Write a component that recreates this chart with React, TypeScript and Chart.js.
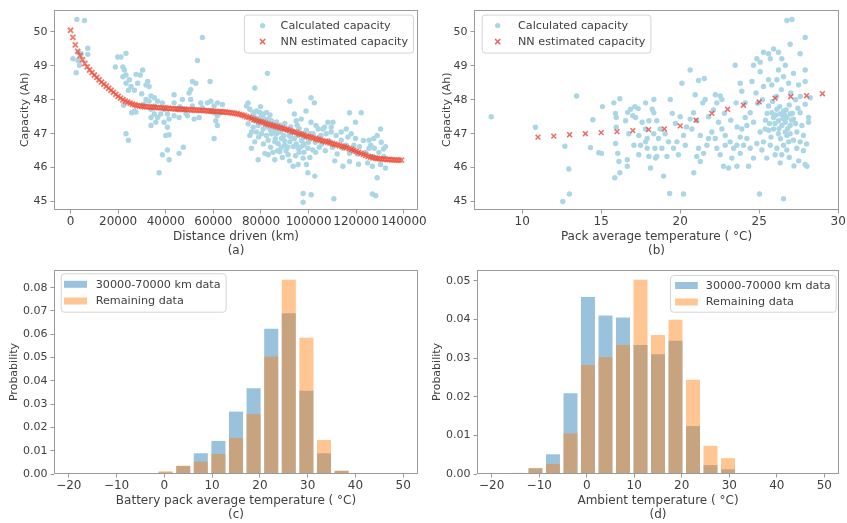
import React, { useEffect, useRef } from 'react';
import { Chart, registerables } from 'chart.js';
Chart.register(...registerables);

// ---------- data ----------
const distTicks = [0, 20000, 40000, 60000, 80000, 100000, 120000, 140000];
const capTicks = [45, 46, 47, 48, 49, 50];
const tempTicksB = [10, 15, 20, 25, 30];
const tempTicksHist = [-20, -10, 0, 10, 20, 30, 40, 50];
const probTicksC = [0, 0.01, 0.02, 0.03, 0.04, 0.05, 0.06, 0.07, 0.08];
const probTicksD = [0, 0.01, 0.02, 0.03, 0.04, 0.05];

// (a) calculated capacity vs distance: [km, Ah]
const calcPointsA = [
  [2650,50.37],[5860,50.34],[980,49.21],[3070,49.16],[3770,49.02],[2370,48.80],[7250,49.52],[7250,49.34],[4460,49.36],[3350,49.40],
  [55380,49.84],[19800,49.26],[21200,49.26],[23300,49.37],[18830,48.97],[22000,48.97],[22600,48.88],[23300,48.73],[22000,48.68],[24700,48.59],
  [23300,48.49],[25400,48.39],[24300,48.28],[30300,48.88],[29300,48.73],[27500,48.75],[32400,48.54],[31700,48.44],[33000,48.39],[28200,48.49],
  [26800,48.28],[29900,48.18],[33800,48.11],[35200,48.06],[33000,47.96],[36600,47.96],[38600,47.91],[22300,47.84],[25700,47.62],[27500,47.64],
  [33800,47.72],[35200,47.58],[33800,47.48],[36600,47.48],[37900,47.58],[39300,47.72],[40700,47.58],[41400,47.43],[33800,47.24],[35800,47.34],
  [39300,47.34],[40700,47.19],[43500,48.15],[47000,48.01],[43500,47.91],[44900,47.72],[43500,47.53],[45600,47.48],[47700,47.72],[49800,48.20],
  [50500,48.01],[51200,48.54],[52600,48.49],[53300,49.16],[58600,48.54],[50500,48.30],[51200,47.82],[49100,47.53],[51900,47.43],[54700,47.91],
  [55400,47.77],[57500,47.91],[58900,47.96],[60300,47.82],[61700,47.91],[63800,47.86],[63100,47.62],[61700,47.53],[60300,47.62],[58900,47.67],
  [54000,47.48],[60300,46.86],[61700,47.24],[61000,47.38],[23300,47.00],[24300,46.81],[38600,46.38],[40700,46.52],[41400,46.23],[45600,46.42],
  [47400,46.60],[37200,45.85],[41400,46.97],[40000,46.95],[26800,47.67],[30700,47.87],[31700,48.01],[35200,47.82],[46000,47.80],[48500,47.60],
  [82700,48.78],[77400,48.35],[74600,47.91],[73900,47.82],[75300,47.72],[76700,47.63],[78100,47.67],[79500,47.63],[80900,47.58],[82300,47.63],
  [76000,47.48],[77400,47.38],[79500,47.38],[81600,47.34],[83000,47.43],[84400,47.38],[74600,47.29],[76700,47.19],[78800,47.24],[80900,47.14],
  [83000,47.19],[85100,47.24],[75300,46.95],[78100,47.05],[80200,47.00],[82300,46.95],[84400,47.00],[86500,47.00],[83000,46.81],[85800,46.76],
  [88600,46.86],[87200,46.71],[90000,46.66],[92100,46.76],[93500,46.62],[95600,46.57],[97700,46.66],[99700,46.57],[101800,46.52],[83000,46.38],
  [85800,46.23],[78800,46.23],[81600,46.42],[87900,46.47],[91400,46.38],[93500,46.04],[95600,46.09],[97700,46.28],[99100,46.09],[102600,45.75],
  [99700,45.85],[92100,47.96],[96900,47.43],[94800,47.38],[94000,47.58],[98900,47.67],[101000,48.06],[102400,47.91],[101000,47.34],[103100,47.24],
  [101800,47.00],[104000,47.14],[104600,46.90],[106000,47.14],[106700,47.19],[108100,47.34],[110200,47.34],[109500,47.19],[107400,47.00],[109500,47.05],
  [111600,46.95],[113700,47.05],[115800,47.14],[117200,47.62],[122100,47.62],[119700,47.34],[117900,47.00],[116500,46.90],[113700,46.81],[114400,46.57],
  [117200,46.42],[115800,46.66],[119000,46.66],[119700,46.86],[121400,46.62],[114400,46.04],[117200,46.18],[125400,46.81],[126100,46.66],[127400,46.86],
  [128800,46.95],[130200,47.14],[127600,46.57],[125400,46.57],[126800,46.33],[124800,46.14],[126800,46.04],[128800,46.28],[130200,46.09],[131600,46.33],
  [132300,46.62],[132300,45.99],[128800,45.70],[126800,45.22],[128200,45.17],[97700,45.24],[97700,44.98],[101100,45.20],[110600,45.08],[77400,46.76],
  [76000,46.57],[86000,47.10],[88000,47.05],[89500,46.95],[91000,47.10],[92500,46.90],[94000,46.85],[95500,46.95],[97000,46.80],[98500,46.90],
  [100000,46.75],[87000,46.50],[89000,46.30],[90500,46.50],[92000,46.20],[94500,46.35],[96000,46.45],[98000,46.45],[100500,46.30],[103000,46.45],
  [104500,46.60],[79000,46.90],[81000,46.70],[84000,46.60],[86000,46.85],[88000,47.25],[90000,47.30],[92500,47.20],[96000,47.15],[99000,47.10],
  [105500,46.70],[107000,46.50],[108500,46.80],[110000,46.60],[112000,46.40],[111000,46.20],[120500,46.40],[123000,46.80],[118500,46.50],[121000,46.10],
  [124000,46.45],[130500,46.75],[131500,46.55],[129500,46.45],[78000,47.45],[80000,47.50],[82000,47.25],[84000,47.10],[86500,47.35],[76000,47.05],
  [85000,46.45],[77000,47.55],[79800,47.80],[81200,47.45],[83800,47.55],[86800,47.15],[89200,47.15],[91800,46.95],[93200,47.05],[95200,47.25],
  [97400,47.00],[98200,46.70],[100800,47.00],[102800,46.75],[105200,46.95],[89800,46.80],[88500,46.60],[91200,46.60],[94800,46.70],[96500,46.60],
];

// (a) NN estimated capacity
const nnDistKm = [
  0,1000,2000,3000,4000,5000,6000,7000,8000,9000,
  10000,11000,12000,13000,14000,15000,16000,17000,18000,19000,
  20000,21000,22000,23000,24000,25000,26000,27000,28000,29000,
  30000,31000,32000,33000,34000,35000,36000,37000,38000,39000,
  40000,41000,42000,43000,44000,45000,46000,47000,48000,49000,
  50000,51000,52000,53000,54000,55000,56000,57000,58000,59000,
  60000,61000,62000,63000,64000,65000,66000,67000,68000,69000,
  70000,71000,72000,73000,74000,75000,76000,77000,78000,79000,
  80000,81000,82000,83000,84000,85000,86000,87000,88000,89000,
  90000,91000,92000,93000,94000,95000,96000,97000,98000,99000,
  100000,101000,102000,103000,104000,105000,106000,107000,108000,109000,
  110000,111000,112000,113000,114000,115000,116000,117000,118000,119000,
  120000,121000,122000,123000,124000,125000,126000,127000,128000,129000,
  130000,131000,132000,133000,134000,135000,136000,137000,138000,139000,
];
const nnCapA = [
  50.05,49.84,49.62,49.43,49.30,49.18,49.07,48.97,48.88,48.80,
  48.73,48.66,48.59,48.52,48.46,48.40,48.34,48.28,48.22,48.16,
  48.10,48.05,48.00,47.96,47.93,47.90,47.87,47.85,47.83,47.82,
  47.81,47.80,47.79,47.79,47.78,47.78,47.77,47.77,47.76,47.76,
  47.75,47.75,47.74,47.74,47.73,47.73,47.72,47.72,47.72,47.71,
  47.71,47.70,47.70,47.70,47.69,47.69,47.68,47.68,47.67,47.67,
  47.66,47.66,47.65,47.65,47.64,47.64,47.63,47.62,47.61,47.60,
  47.59,47.57,47.55,47.53,47.50,47.48,47.45,47.42,47.40,47.37,
  47.35,47.33,47.30,47.28,47.26,47.24,47.22,47.20,47.18,47.16,
  47.14,47.12,47.10,47.07,47.05,47.03,47.00,46.98,46.96,46.93,
  46.91,46.89,46.87,46.85,46.83,46.81,46.79,46.77,46.75,46.73,
  46.71,46.69,46.67,46.65,46.63,46.61,46.59,46.56,46.54,46.51,
  46.48,46.45,46.42,46.39,46.36,46.33,46.31,46.29,46.28,46.27,
  46.26,46.25,46.25,46.24,46.24,46.23,46.23,46.22,46.22,46.22,
];

// (b) calculated capacity vs pack temperature: [°C, Ah]
const calcPointsB = [
  [8.04,47.50],[10.84,47.19],[12.70,46.63],[12.95,45.96],[12.99,45.22],[12.57,45.00],[13.44,48.11],[14.32,46.59],[14.47,47.41],[14.85,46.44],
  [15.02,46.42],[15.08,47.80],[15.80,47.91],[16.18,48.03],[15.90,47.60],[15.95,47.48],[15.95,47.19],[15.91,46.71],[16.05,46.42],[16.12,46.18],
  [15.86,45.70],[16.18,45.85],[16.54,47.38],[16.67,47.63],[16.86,47.72],[17.13,47.80],[17.34,47.74],[17.00,47.53],[17.17,47.48],[16.65,46.23],
  [16.65,46.04],[17.38,46.95],[17.49,46.66],[17.81,46.76],[17.91,46.57],[18.02,46.33],[18.12,45.99],[17.81,47.14],[18.02,47.38],[18.23,47.72],
  [18.33,48.01],[17.59,47.34],[17.81,47.91],[18.33,47.62],[18.33,47.00],[18.40,46.57],[18.44,46.28],[17.91,46.86],[17.38,46.38],[17.07,46.66],
  [16.75,47.00],[19.37,48.01],[20.63,48.88],[20.11,48.49],[21.16,48.57],[21.52,48.63],[20.95,48.15],[21.43,47.91],[21.58,48.01],[22.22,48.15],
  [22.53,48.11],[22.64,48.01],[22.32,47.91],[23.48,49.02],[23.80,48.49],[23.90,48.25],[23.54,47.91],[24.11,47.91],[24.64,49.02],[24.85,49.21],
  [25.06,49.11],[24.54,48.54],[25.06,48.83],[25.27,48.39],[25.59,48.59],[25.80,48.44],[25.59,49.36],[25.91,49.50],[26.22,49.40],[26.43,49.21],
  [26.65,49.02],[26.96,49.64],[27.59,49.36],[27.91,49.84],[26.75,50.34],[27.07,50.37],[26.22,48.88],[26.12,48.59],[26.54,48.68],[26.86,48.49],
  [27.17,48.78],[27.49,48.44],[27.91,48.88],[27.91,48.54],[27.91,47.87],[27.59,47.62],[28.12,47.48],[27.91,46.09],[28.02,46.04],[26.54,45.08],
  [25.02,45.22],[20.21,45.22],[19.33,45.24],[20.86,45.85],[18.95,45.75],[18.52,47.38],[18.73,47.14],[18.63,46.86],[19.05,47.00],[19.26,46.76],
  [19.58,46.57],[19.79,46.76],[19.89,46.38],[19.16,46.33],[18.84,46.57],[18.52,46.33],[20.21,46.95],[20.32,46.66],[20.74,47.14],[20.63,47.43],
  [20.84,47.62],[21.05,47.38],[21.27,46.95],[21.16,46.57],[21.05,46.33],[21.48,46.42],[21.27,46.18],[21.69,46.66],[21.79,46.86],[22.00,47.05],
  [22.22,46.86],[22.32,46.57],[22.43,47.34],[22.64,47.14],[22.85,46.95],[22.53,46.38],[22.74,46.04],[23.06,45.99],[22.85,46.66],[23.16,46.76],
  [23.38,46.57],[23.59,46.66],[23.27,46.28],[23.59,46.04],[23.80,46.42],[24.01,46.66],[24.22,46.86],[23.90,47.14],[24.22,47.24],[24.11,47.48],
  [24.43,47.62],[24.64,47.34],[24.43,46.57],[24.64,46.28],[24.33,46.04],[24.85,46.71],[25.06,47.05],[25.38,47.14],[25.27,46.76],[25.17,46.52],
  [25.48,46.28],[25.70,46.66],[25.59,47.82],[25.80,47.62],[25.91,47.48],[26.12,47.72],[26.33,47.58],[26.54,47.67],[26.75,47.48],[26.22,47.38],
  [26.43,47.24],[26.65,47.34],[26.96,47.58],[27.17,47.43],[26.96,47.24],[25.91,47.14],[26.22,47.00],[26.65,47.05],[26.96,47.00],[27.17,46.81],
  [26.86,46.76],[26.54,46.66],[26.12,46.57],[26.43,46.38],[26.01,46.38],[26.33,46.14],[26.75,46.52],[27.38,46.57],[27.59,46.76],[27.80,46.95],
  [27.38,47.05],[27.70,47.24],[28.12,47.34],[28.23,48.06],[25.70,49.21],[25.27,49.40],[25.40,47.40],[25.60,47.10],[25.75,46.90],[26.00,47.30],
  [26.30,47.80],[26.50,47.45],[26.70,47.70],[26.90,47.85],[27.10,47.60],[27.30,47.30],[25.50,47.60],[25.85,47.95],[26.10,48.10],[26.40,48.30],
  [27.00,48.20],[27.30,48.00],[27.60,48.10],[24.90,47.90],[24.80,48.20],[25.20,48.00],[19.70,47.30],[20.00,47.50],[20.40,47.20],[19.50,47.60],
  [21.80,47.50],[22.10,47.70],[22.80,47.60],[23.20,47.40],[23.60,47.20],[23.80,46.90],[28.00,46.70],[27.80,46.50],[27.50,46.20],[26.90,46.30],
  [27.20,46.05],[26.05,47.55],[26.25,47.15],[26.60,47.55],[26.80,47.15],[27.05,47.40],[26.35,46.85],[26.75,46.95],[25.65,47.30],[27.45,47.75],
];

// (b) NN estimated capacity
const nnTempB = [11, 12, 13, 14, 15, 16, 17, 18, 19, 20, 21, 22, 23, 24, 25, 26, 27, 28, 29];
const nnCapB = [46.90, 46.93, 46.97, 47.00, 47.03, 47.06, 47.09, 47.12, 47.14, 47.23, 47.40, 47.60, 47.72, 47.84, 47.94, 48.05, 48.09, 48.12, 48.18];

// (c), (d) histograms
const binCenters = [-18.16, -14.47, -10.79, -7.11, -3.42, 0.26, 3.95, 7.63, 11.32, 15.00, 18.68, 22.37, 26.05, 29.74, 33.42, 37.11, 40.79, 44.47, 48.16];
const packTempMid = [0, 0, 0, 0, 0.0003, 0.0007, 0.0034, 0.0089, 0.0142, 0.0268, 0.0368, 0.0624, 0.0690, 0.0357, 0.0089, 0.0013, 0, 0, 0];
const packTempRest = [0, 0, 0, 0, 0.0001, 0.0012, 0.0036, 0.0053, 0.0086, 0.0155, 0.0257, 0.0505, 0.0834, 0.0585, 0.0146, 0.0015, 0, 0, 0];
const ambientMid = [0, 0.0001, 0.0015, 0.0051, 0.0209, 0.0458, 0.0410, 0.0405, 0.0334, 0.0310, 0.0345, 0.0124, 0.0023, 0.0012, 0, 0, 0, 0, 0];
const ambientRest = [0, 0.0003, 0.0015, 0.0026, 0.0105, 0.0282, 0.0302, 0.0334, 0.0503, 0.0360, 0.0399, 0.0244, 0.0073, 0.0041, 0.0002, 0, 0, 0, 0];

// ---------- styles ----------
const FONT = "'DejaVu Sans', sans-serif";
const TEXT = '#404040';
const SPINE = '#9a9a9a';
const LIGHTBLUE = 'rgb(170,214,229)';
const NN_RED_A = 'rgba(238,78,56,0.75)';
const NN_RED_B = 'rgba(228,60,55,0.75)';
const BLUE_A = 'rgba(31,119,180,0.45)';
const ORANGE_A = 'rgba(255,127,14,0.45)';

const xTickFont = { family: FONT, size: 12 };
const yTickFont = { family: FONT, size: 11 };
const xTitleFont = { family: FONT, size: 12, lineHeight: '14px' };
const yTitleFont = { family: FONT, size: 11, lineHeight: '14px' };

const fmtMinus = (v: number, dec: number) => {
  const s = dec > 0 ? Number(v).toFixed(dec) : String(Math.round(v));
  return s.replace('-', '\u2212');
};

const framePlugin = {
  id: 'frame',
  afterDatasetsDraw(chart: any) {
    const { ctx, chartArea: a } = chart;
    ctx.save();
    ctx.strokeStyle = SPINE;
    ctx.lineWidth = 1;
    ctx.strokeRect(Math.round(a.left) + 0.5, Math.round(a.top) + 0.5, Math.round(a.right - a.left) - 1, Math.round(a.bottom - a.top) - 1);
    ctx.restore();
  },
};

const insetLegend = {
  id: 'insetLegend',
  afterDraw(chart: any, _args: any, o: any) {
    if (!o || !o.items) return;
    const { ctx, chartArea: a } = chart;
    ctx.save();
    ctx.font = `11.2px ${FONT}`;
    const tw = Math.max(...o.items.map((it: any) => ctx.measureText(it.label).width));
    const w = o.textX + tw + o.padRight;
    const h = o.height;
    const x = o.anchor === 'right' ? a.right - o.dx - w : a.left + o.dx;
    const y = a.top + o.dy;
    ctx.beginPath();
    if ((ctx as any).roundRect) (ctx as any).roundRect(x + 0.5, y + 0.5, w, h, 3);
    else ctx.rect(x + 0.5, y + 0.5, w, h);
    ctx.fillStyle = 'rgba(255,255,255,0.85)';
    ctx.fill();
    ctx.strokeStyle = '#d4d4d4';
    ctx.lineWidth = 1;
    ctx.stroke();
    o.items.forEach((it: any, i: number) => {
      const cy = y + o.firstRow + i * o.rowGap;
      if (it.kind === 'circle') {
        ctx.beginPath();
        ctx.arc(x + o.markerX, cy, 2.7, 0, Math.PI * 2);
        ctx.fillStyle = it.color;
        ctx.fill();
      } else if (it.kind === 'x') {
        const mx = x + o.markerX, r = 2.6;
        ctx.beginPath();
        ctx.moveTo(mx - r, cy - r); ctx.lineTo(mx + r, cy + r);
        ctx.moveTo(mx + r, cy - r); ctx.lineTo(mx - r, cy + r);
        ctx.strokeStyle = it.color;
        ctx.lineWidth = 1.5;
        ctx.stroke();
      } else {
        ctx.fillStyle = it.color;
        ctx.fillRect(x + o.patchX, cy - 3.5, o.patchW, 7);
      }
      ctx.fillStyle = TEXT;
      ctx.textAlign = 'left';
      ctx.textBaseline = 'middle';
      ctx.fillText(it.label, x + o.textX, cy + 0.5);
    });
    ctx.restore();
  },
};

function axisX(min: number, max: number, ticks: number[], height: number, title: string[], padBottom: number, dec = 0) {
  return {
    type: 'linear',
    position: 'bottom',
    min,
    max,
    offset: false,
    afterBuildTicks: (ax: any) => { ax.ticks = ticks.map((v) => ({ value: v })); },
    afterFit: (ax: any) => { ax.height = height; },
    grid: { display: true, offset: false, drawOnChartArea: false, drawTicks: true, tickLength: 3.5, color: SPINE, tickColor: SPINE },
    border: { display: false },
    ticks: { font: xTickFont, color: TEXT, padding: 1, maxRotation: 0, autoSkip: false, callback: (v: any) => fmtMinus(Number(v), dec) },
    title: { display: true, text: title, font: xTitleFont, color: TEXT, padding: { top: 0, bottom: padBottom } },
  };
}

function axisY(min: number, max: number, ticks: number[], width: number, title: string, padTop: number, dec = 0) {
  return {
    type: 'linear',
    position: 'left',
    min,
    max,
    beginAtZero: false,
    afterBuildTicks: (ax: any) => { ax.ticks = ticks.map((v) => ({ value: v })); },
    afterFit: (ax: any) => { ax.width = width; },
    grid: { display: true, drawOnChartArea: false, drawTicks: true, tickLength: 3.5, color: SPINE, tickColor: SPINE },
    border: { display: false },
    ticks: { font: yTickFont, color: TEXT, padding: 3, autoSkip: false, callback: (v: any) => fmtMinus(Number(v), dec) },
    title: { display: true, text: title, font: yTitleFont, color: TEXT, padding: { top: padTop, bottom: 0 } },
  };
}

const scatterLegendItems = [
  { label: 'Calculated capacity', kind: 'circle', color: LIGHTBLUE },
  { label: 'NN estimated capacity', kind: 'x', color: 'rgba(230,60,50,0.8)' },
];
const histLegendItems = [
  { label: '30000-70000 km data', kind: 'rect', color: BLUE_A },
  { label: 'Remaining data', kind: 'rect', color: ORANGE_A },
];

function configA() {
  return {
    type: 'scatter',
    data: {
      datasets: [
        {
          label: 'NN estimated capacity', order: 0,
          data: nnDistKm.map((x, i) => ({ x, y: nnCapA[i] })),
          pointStyle: 'crossRot', pointRadius: 3.6, borderWidth: 1.8, borderColor: NN_RED_A, backgroundColor: NN_RED_A,
        },
        {
          label: 'Calculated capacity', order: 1,
          data: calcPointsA.map(([x, y]) => ({ x, y })),
          pointStyle: 'circle', pointRadius: 2.7, borderWidth: 0, backgroundColor: LIGHTBLUE,
        },
      ],
    },
    options: {
      animation: false, responsive: false, events: [],
      layout: { padding: { left: 0, top: 5, right: 22, bottom: 0 } },
      scales: {
        x: axisX(-6950, 145950, distTicks, 48, ['Distance driven (km)', '(a)'], 0.5),
        y: axisY(44.75, 50.66, capTicks, 54, 'Capacity (Ah)', 18.5),
      },
      plugins: {
        legend: { display: false }, tooltip: { enabled: false },
        insetLegend: { items: scatterLegendItems, anchor: 'right', dx: 5, dy: 5, height: 38, markerX: 18.7, textX: 36.7, firstRow: 11, rowGap: 16, padRight: 5 },
      },
    },
    plugins: [framePlugin, insetLegend],
  };
}

function configB() {
  return {
    type: 'scatter',
    data: {
      datasets: [
        {
          label: 'NN estimated capacity', order: 0,
          data: nnTempB.map((x, i) => ({ x, y: nnCapB[i] })),
          pointStyle: 'crossRot', pointRadius: 3.4, borderWidth: 1.5, borderColor: NN_RED_B, backgroundColor: NN_RED_B,
        },
        {
          label: 'Calculated capacity', order: 1,
          data: calcPointsB.map(([x, y]) => ({ x, y })),
          pointStyle: 'circle', pointRadius: 2.7, borderWidth: 0, backgroundColor: LIGHTBLUE,
        },
      ],
    },
    options: {
      animation: false, responsive: false, events: [],
      layout: { padding: { left: 0, top: 5, right: 8, bottom: 0 } },
      scales: {
        x: axisX(6.95, 30.05, tempTicksB, 48, ['Pack average temperature ( \u00B0C)', '(b)'], 0.5),
        y: axisY(44.75, 50.66, capTicks, 50, 'Capacity (Ah)', 16),
      },
      plugins: {
        legend: { display: false }, tooltip: { enabled: false },
        insetLegend: { items: scatterLegendItems, anchor: 'left', dx: 7.7, dy: 5, height: 38, markerX: 16, textX: 36.3, firstRow: 11, rowGap: 16, padRight: 5 },
      },
    },
    plugins: [framePlugin, insetLegend],
  };
}

function histConfig(mid: number[], rest: number[], yMax: number, yTicks: number[], yWidth: number, yTitlePad: number, xTitle: string[], legend: any) {
  return {
    type: 'bar',
    data: {
      datasets: [
        {
          label: '30000-70000 km data', order: 1,
          data: binCenters.map((x, i) => ({ x, y: mid[i] })),
          backgroundColor: BLUE_A, borderWidth: 0, grouped: false, barPercentage: 0.8, categoryPercentage: 1,
        },
        {
          label: 'Remaining data', order: 0,
          data: binCenters.map((x, i) => ({ x, y: rest[i] })),
          backgroundColor: ORANGE_A, borderWidth: 0, grouped: false, barPercentage: 0.8, categoryPercentage: 1,
        },
      ],
    },
    options: {
      animation: false, responsive: false, events: [],
      layout: { padding: { left: 0, top: 12, right: legend.anchor === 'right' ? 8 : 22, bottom: 0 } },
      scales: {
        x: axisX(-23.1, 53.1, tempTicksHist, 49, xTitle, 1),
        y: axisY(0, yMax, yTicks, yWidth, 'Probability', yTitlePad, 2),
      },
      plugins: {
        legend: { display: false }, tooltip: { enabled: false },
        insetLegend: legend,
      },
    },
    plugins: [framePlugin, insetLegend],
  };
}

function configC() {
  return histConfig(packTempMid, packTempRest, 0.0876, probTicksC, 54, 6.8,
    ['Battery pack average temperature ( \u00B0C)', '(c)'],
    { items: histLegendItems, anchor: 'left', dx: 6.7, dy: 3.3, height: 38.4, patchX: 3.3, patchW: 23, textX: 35, firstRow: 11, rowGap: 16.7, padRight: 5 });
}

function configD() {
  return histConfig(ambientMid, ambientRest, 0.0528, probTicksD, 53, 6.2,
    ['Ambient temperature ( \u00B0C)', '(d)'],
    { items: histLegendItems, anchor: 'right', dx: 3.3, dy: 5, height: 36.7, patchX: 5, patchW: 22.7, textX: 35.7, firstRow: 10.5, rowGap: 16.5, padRight: 5 });
}

function ChartBox({ left, top, width, height, make }: { left: number; top: number; width: number; height: number; make: () => any }) {
  const ref = useRef<HTMLCanvasElement | null>(null);
  useEffect(() => {
    if (!ref.current) return;
    const chart = new Chart(ref.current, make());
    return () => chart.destroy();
  }, []);
  return (
    <canvas
      ref={ref}
      width={width}
      height={height}
      style={{ position: 'absolute', left, top, width, height, display: 'block' }}
    />
  );
}

export default function App() {
  return (
    <div style={{ position: 'absolute', left: 0, top: 0, width: 847, height: 523, background: '#ffffff', overflow: 'hidden' }}>
      <ChartBox left={0} top={0} width={440} height={258} make={configA} />
      <ChartBox left={424} top={0} width={423} height={258} make={configB} />
      <ChartBox left={0} top={258} width={440} height={265} make={configC} />
      <ChartBox left={424} top={258} width={423} height={265} make={configD} />
    </div>
  );
}
